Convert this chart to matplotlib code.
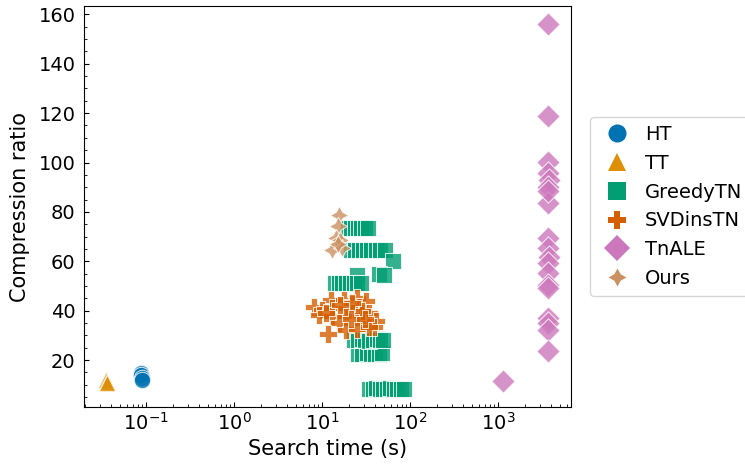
import matplotlib.pyplot as plt
from matplotlib.lines import Line2D
from matplotlib.ticker import AutoMinorLocator

# Datos (tiempo de busqueda en s, ratio de compresion)
ht_x = [0.086, 0.088, 0.089, 0.090]
ht_y = [14.9, 14.0, 12.6, 12.1]

tt_x = [0.035, 0.0355, 0.036]
tt_y = [11.8, 11.2, 10.9]

greedy_x = [19.7, 21.5, 23.4, 25.6, 27.8, 30.4, 33.3,
            21.3, 23.5, 26.0, 29.2, 32.5, 36.0, 40.5, 45.6, 52.0,
            64.3, 24.9, 44.5, 50.7,
            14.0, 15.4, 17.0, 18.8, 20.7, 22.8, 25.1, 27.7,
            25.6, 28.6, 32.0, 35.8, 40.0, 44.0, 48.1,
            23.0, 25.4, 28.1, 31.0, 34.3, 38.0, 42.0, 45.5, 49.4,
            34.2, 37.5, 41.0, 45.0, 49.3, 54.0, 59.2, 64.8, 71.0, 78.0, 85.9]
greedy_y = [73.5, 73.4, 73.6, 73.5, 73.3, 73.6, 73.5,
            64.6, 64.5, 64.7, 64.6, 64.4, 64.6, 64.7, 64.5, 64.6,
            60.2, 54.3, 54.8, 54.4,
            51.3, 51.2, 51.4, 51.3, 51.3, 51.2, 51.4, 51.3,
            22.6, 22.5, 22.7, 22.6, 22.6, 22.5, 22.7,
            28.3, 28.2, 28.4, 28.3, 27.9, 28.3, 28.4, 28.2, 28.3,
            8.5, 8.5, 8.6, 8.4, 8.5, 8.5, 8.6, 8.4, 8.5, 8.5, 8.5]

svd_x = [12.5, 17.7, 25.1, 31.1, 8.0, 10.0, 13.0, 19.3, 26.2, 9.2, 13.0,
         18.5, 27.3, 34.4, 15.6, 28.5, 40.8, 18.5, 25.1, 11.7, 39.3, 34.4,
         28.0, 22.0, 16.0, 21.5, 30.5, 11.0]
svd_y = [44.4, 44.4, 45.1, 43.8, 41.7, 40.4, 41.1, 41.1, 41.7, 38.4, 37.7,
         37.7, 38.4, 39.1, 35.0, 35.0, 35.7, 32.3, 32.6, 30.6, 33.6, 33.6,
         40.0, 43.0, 42.5, 36.5, 36.5, 39.0]

tnale_x = [3700, 3700, 3650, 3700, 3750, 3700, 3700, 3650, 3700, 3750,
           3700, 3700, 3650, 3700, 3700, 3650, 3700, 3700, 3650, 1130]
tnale_y = [156.0, 118.8, 100.3, 95.6, 92.9, 90.2, 83.8, 69.4, 65.3, 61.9,
           59.3, 55.2, 50.5, 49.2, 37.0, 35.0, 32.3, 23.6, 88.5, 11.4]

ours_x = [15.6, 15.1, 14.2, 16.0, 12.9, 16.8, 15.0]
ours_y = [78.8, 74.3, 69.5, 68.7, 64.6, 65.5, 67.0]

# Paleta "colorblind" de seaborn
series = [
    ("HT", ht_x, ht_y, "#0173b2", "o", 140),
    ("TT", tt_x, tt_y, "#de8f05", "^", 140),
    ("GreedyTN", greedy_x, greedy_y, "#029e73", "s", 140),
    ("SVDinsTN", svd_x, svd_y, "#d55e00", "P", 150),
    ("TnALE", tnale_x, tnale_y, "#cc78bc", "D", 140),
    ("Ours", ours_x, ours_y, "#ca9161", (4, 1, 0), 170),
]

fig = plt.figure(figsize=(7.45, 4.65), dpi=100)
ax = fig.add_axes([0.1128, 0.1247, 0.6533, 0.8624])

handles = []
for name, xs, ys, color, marker, size in series:
    ax.scatter(xs, ys, s=size, c=color, marker=marker, alpha=0.8,
               edgecolors="white", linewidths=0.75)
    handles.append(Line2D([], [], linestyle="none", marker=marker, color=color,
                          markersize=13, markeredgewidth=0, label=name))

ax.set_xscale("log")
ax.yaxis.set_minor_locator(AutoMinorLocator())
ax.tick_params(which="both", direction="in", labelsize=14)
ax.tick_params(axis="y", pad=6)
ax.set_xlabel("Search time (s)", fontsize=15)
ax.set_ylabel("Compression ratio", fontsize=15, labelpad=6)

ax.legend(handles=handles, loc="center left", bbox_to_anchor=(1.02, 0.5),
          fontsize=14, handletextpad=0.4)

fig.savefig("out.png", dpi=100)
